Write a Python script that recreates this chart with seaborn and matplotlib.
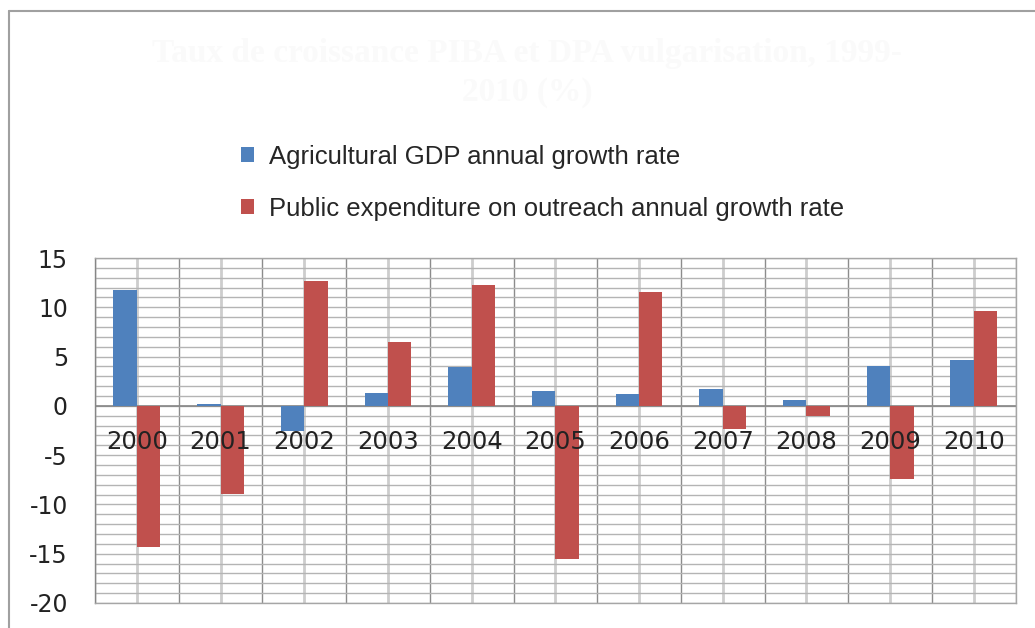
import matplotlib
matplotlib.use("Agg")
import matplotlib.pyplot as plt
from matplotlib.patches import Patch
from matplotlib.lines import Line2D
from matplotlib.ticker import MultipleLocator
import seaborn as sns
import pandas as pd

# Annual growth rates (%)
years = ["2000", "2001", "2002", "2003", "2004", "2005",
         "2006", "2007", "2008", "2009", "2010"]
agri_gdp = [11.8, 0.2, -2.5, 1.3, 3.9, 1.5, 1.2, 1.7, 0.6, 4.0, 4.7]
outreach_spend = [-14.3, -8.9, 12.7, 6.5, 12.3, -15.5, 11.6, -2.3, -1.0, -7.4, 9.6]

series_names = ["Agricultural GDP annual growth rate",
                "Public expenditure on outreach annual growth rate"]
colors = ["#4F81BD", "#C0504D"]
title = "Taux de croissance PIBA et DPA vulgarisation, 1999-\n2010 (%)"

df = pd.DataFrame({
    "year": years * 2,
    "value": agri_gdp + outreach_spend,
    "series": [series_names[0]] * len(years) + [series_names[1]] * len(years),
})

sns.set_style("white")
plt.rcParams["font.family"] = ["DejaVu Sans"]
plt.rcParams["axes.unicode_minus"] = False

fig = plt.figure(figsize=(10.35, 6.28), dpi=100)
ax = fig.add_axes([95 / 1035, 25 / 628, 920.7 / 1035, 345 / 628])

sns.barplot(data=df, x="year", y="value", hue="series", hue_order=series_names,
            order=years, palette=colors, width=0.56, saturation=1,
            errorbar=None, legend=False, linewidth=0, zorder=3, ax=ax)

ax.set_ylim(-20, 15)
ax.set_xlim(-0.5, len(years) - 0.5)
ax.set_xlabel("")
ax.set_ylabel("")

# y axis: major labels every 5, light grid every unit
ax.yaxis.set_major_locator(MultipleLocator(5))
ax.yaxis.set_minor_locator(MultipleLocator(1))
ax.tick_params(axis="y", which="major", direction="out", length=6.5, width=1,
               color="#868686", labelsize=17, pad=13, labelcolor="#222222")
ax.tick_params(axis="y", which="minor", length=0)
ax.grid(axis="y", which="both", color="#b4b4b4", lw=1, zorder=0)

# x axis: light lines at category centres, darker category boundaries
ax.set_xticks(range(len(years)))
ax.set_xticks([i - 0.5 for i in range(len(years) + 1)], minor=True)
ax.tick_params(axis="x", which="both", length=0, labelbottom=False)
ax.grid(axis="x", which="major", color="#cdcdcd", lw=2, zorder=0)
ax.grid(axis="x", which="minor", color="#8c8c8c", lw=1, zorder=0)
ax.set_axisbelow(True)

ax.axhline(0, color="#868686", lw=1.2, zorder=2)
for side in ["top", "right", "bottom"]:
    ax.spines[side].set_color("#a6a6a6")
    ax.spines[side].set_linewidth(1)
ax.spines["left"].set_color("#868686")
ax.spines["left"].set_linewidth(1)

# category labels sit just under the zero line
for i, y in enumerate(years):
    ax.text(i, -3.65, y, ha="center", va="center", fontsize=17.5, color="#222222",
            zorder=5)

# legend
handles = [Patch(facecolor=c, edgecolor="none") for c in colors]
fig.legend(handles, series_names, loc="upper left",
           bbox_to_anchor=(228 / 1035, 1 - 132 / 628), frameon=False,
           prop={"family": "Liberation Sans", "size": 18.5},
           handlelength=0.5, handleheight=0.5, handletextpad=0.6,
           labelspacing=1.08, borderpad=0)

# faint chart title
fig.text(527 / 1035, 1 - 73 / 628, title, ha="center", va="center",
         fontsize=24, fontweight="bold", family="Liberation Serif",
         color="#fafafa", linespacing=1.35)

# outer chart frame
fig.add_artist(Line2D([9 / 1035, 9 / 1035], [0, 1 - 11 / 628],
                      transform=fig.transFigure, color="#a0a0a0", lw=1.5))
fig.add_artist(Line2D([9 / 1035, 1], [1 - 11 / 628, 1 - 11 / 628],
                      transform=fig.transFigure, color="#a0a0a0", lw=1.5))

fig.savefig("out.png", dpi=100, facecolor="white")
